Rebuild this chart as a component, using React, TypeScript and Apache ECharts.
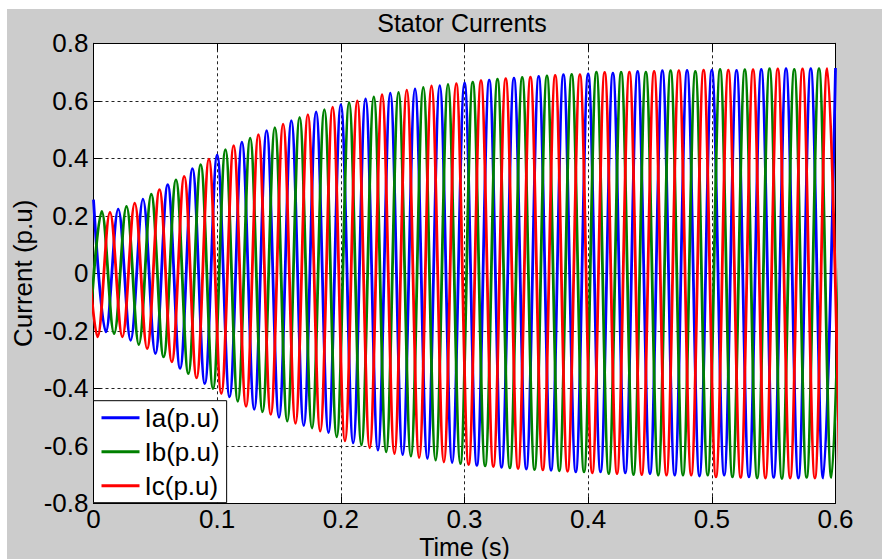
import React, { useEffect, useRef } from "react";
import * as echarts from "echarts";

// ---- Data ----
const seriesNames = ["Ia(p.u)", "Ib(p.u)", "Ic(p.u)"];
const seriesColors = ["#0000ff", "#008000", "#ff0000"];
const xTicks = [0, 0.1, 0.2, 0.3, 0.4, 0.5, 0.6];
const yTicks = [-0.8, -0.6, -0.4, -0.2, 0, 0.2, 0.4, 0.6, 0.8];

// Fundamental period of the currents (50 Hz)
const PERIOD = 0.02;

// Ia : peaks every period starting at t = 0, troughs starting at t = 0.01
const iaFirstPeak = 0;
const iaFirstTrough = 0.01;
const iaPeaks = [0.256, 0.223, 0.258, 0.308, 0.364, 0.412, 0.456, 0.496, 0.531, 0.561, 0.587, 0.607, 0.627, 0.641, 0.653, 0.662, 0.672, 0.679, 0.685, 0.691, 0.694, 0.696, 0.702, 0.705, 0.706, 0.707, 0.706, 0.709, 0.712, 0.712, 0.714];
const iaTroughs = [-0.204, -0.233, -0.279, -0.331, -0.384, -0.43, -0.473, -0.501, -0.53, -0.554, -0.59, -0.615, -0.631, -0.644, -0.658, -0.668, -0.675, -0.681, -0.685, -0.691, -0.691, -0.694, -0.697, -0.702, -0.705, -0.702, -0.708, -0.71, -0.712, -0.712];

// Ib : lags Ia by a third of a period
const ibFirstPeak = 0.02 / 3;
const ibFirstTrough = 0.02 / 3 - 0.01;
const ibPeaks = [0.215, 0.233, 0.275, 0.325, 0.378, 0.43, 0.47, 0.507, 0.542, 0.569, 0.594, 0.614, 0.629, 0.647, 0.657, 0.665, 0.675, 0.681, 0.687, 0.692, 0.7, 0.7, 0.7, 0.705, 0.702, 0.709, 0.708, 0.712, 0.709, 0.712, 0.712];
const ibTroughs = [-0.22, -0.21, -0.248, -0.291, -0.349, -0.401, -0.445, -0.482, -0.514, -0.538, -0.569, -0.597, -0.621, -0.636, -0.65, -0.662, -0.67, -0.677, -0.683, -0.687, -0.691, -0.697, -0.7, -0.702, -0.702, -0.702, -0.708, -0.712, -0.714, -0.71, -0.71];

// Ic : lags Ia by two thirds of a period
const icFirstPeak = -0.02 / 3;
const icFirstTrough = -0.02 / 3 + 0.01;
const icPeaks = [0.22, 0.212, 0.244, 0.291, 0.337, 0.397, 0.444, 0.482, 0.519, 0.552, 0.578, 0.6, 0.621, 0.637, 0.652, 0.66, 0.67, 0.677, 0.682, 0.688, 0.691, 0.699, 0.7, 0.702, 0.705, 0.707, 0.707, 0.708, 0.711, 0.711, 0.712];
const icTroughs = [-0.221, -0.221, -0.262, -0.308, -0.364, -0.418, -0.463, -0.491, -0.522, -0.549, -0.583, -0.607, -0.627, -0.641, -0.656, -0.665, -0.672, -0.679, -0.684, -0.689, -0.694, -0.697, -0.7, -0.702, -0.702, -0.708, -0.71, -0.712, -0.712, -0.712, -0.712];

function buildPoints(peaks: number[], troughs: number[], firstPeak: number, firstTrough: number) {
  const pts: [number, number][] = [];
  peaks.forEach((v, i) => pts.push([firstPeak + i * PERIOD, v]));
  troughs.forEach((v, i) => pts.push([firstTrough + i * PERIOD, v]));
  pts.sort((a, b) => a[0] - b[0]);
  return pts;
}

const FONT = "'Liberation Sans', Arial, Helvetica, sans-serif";
const fmt = (v: number) => String(parseFloat(v.toFixed(1)));

export default function App() {
  const ref = useRef<HTMLDivElement>(null);
  useEffect(() => {
    if (!ref.current) return;
    const chart = echarts.init(ref.current, null, { renderer: "svg" });
    const data = [
      buildPoints(iaPeaks, iaTroughs, iaFirstPeak, iaFirstTrough),
      buildPoints(ibPeaks, ibTroughs, ibFirstPeak, ibFirstTrough),
      buildPoints(icPeaks, icTroughs, icFirstPeak, icFirstTrough),
    ];
    const axisLine = { show: true, onZero: false, lineStyle: { color: "#000", width: 1 } };
    const axisTick = { show: true, inside: true, length: 7, lineStyle: { color: "#000", width: 1 } };
    const splitLine = { show: true, lineStyle: { color: "#222", width: 1, type: [3, 3] as any } };
    const labelStyle = { fontSize: 26, fontFamily: FONT, color: "#000" };
    chart.setOption({
      animation: false,
      backgroundColor: "#cccccc",
      title: {
        text: "Stator Currents",
        left: 455,
        top: 1,
        padding: 0,
        textAlign: "center",
        textStyle: { fontSize: 25, fontWeight: "normal", fontFamily: FONT, color: "#000", lineHeight: 25 },
      },
      grid: {
        left: 86.5,
        top: 34.3,
        right: 46.5,
        bottom: 55.7,
        show: true,
        backgroundColor: "#ffffff",
        borderWidth: 0,
        containLabel: false,
        outerBoundsMode: "none",
      },
      legend: {
        orient: "vertical",
        left: 86.5,
        top: 391.7,
        icon: "rect",
        itemWidth: 38,
        itemHeight: 3,
        itemGap: 8,
        padding: [4, 7, 4, 8],
        backgroundColor: "#ffffff",
        borderColor: "#000",
        borderWidth: 1,
        borderRadius: 0,
        selectedMode: false,
        textStyle: { ...labelStyle, lineHeight: 26 },
        data: seriesNames,
      },
      xAxis: [
        {
          type: "value",
          min: xTicks[0],
          max: xTicks[xTicks.length - 1],
          interval: 0.1,
          position: "bottom",
          name: "Time (s)",
          nameLocation: "middle",
          nameGap: 34,
          nameMoveOverlap: false,
          nameTextStyle: { ...labelStyle, fontSize: 25, lineHeight: 20 },
          axisLine,
          axisTick,
          splitLine,
          axisLabel: { ...labelStyle, lineHeight: 20, margin: 6, formatter: fmt },
        },
        {
          type: "value",
          min: xTicks[0],
          max: xTicks[xTicks.length - 1],
          interval: 0.1,
          position: "top",
          axisLine,
          axisTick,
          splitLine: { show: false },
          axisLabel: { show: false },
        },
      ],
      yAxis: [
        {
          type: "value",
          min: yTicks[0],
          max: yTicks[yTicks.length - 1],
          interval: 0.2,
          position: "left",
          name: "Current (p.u)",
          nameLocation: "middle",
          nameGap: 58,
          nameMoveOverlap: false,
          nameTextStyle: { ...labelStyle, lineHeight: 26 },
          axisLine,
          axisTick,
          splitLine,
          axisLabel: { ...labelStyle, margin: 5, formatter: fmt },
        },
        {
          type: "value",
          min: yTicks[0],
          max: yTicks[yTicks.length - 1],
          interval: 0.2,
          position: "right",
          axisLine,
          axisTick,
          splitLine: { show: false },
          axisLabel: { show: false },
        },
      ],
      series: seriesNames.map((name, i) => ({
        name,
        type: "line",
        xAxisIndex: 0,
        yAxisIndex: 0,
        data: data[i],
        smooth: 0.36,
        showSymbol: false,
        symbol: "none",
        clip: true,
        color: seriesColors[i],
        lineStyle: { color: seriesColors[i], width: 2.8 },
        itemStyle: { color: seriesColors[i] },
      })),
    });
    return () => chart.dispose();
  }, []);
  return (
    <div style={{ position: "fixed", left: 7, top: 9, width: 875, height: 550, background: "#cccccc" }}>
      <div ref={ref} style={{ width: 875, height: 550 }} />
    </div>
  );
}
